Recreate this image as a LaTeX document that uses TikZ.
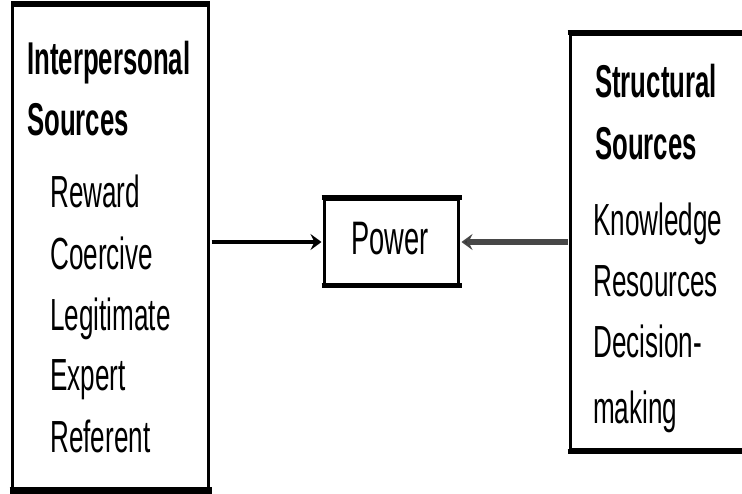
\documentclass[tikz,border=0pt]{standalone}
\usepackage{fontspec}
\newfontfamily\narrowfont[FakeStretch=0.58]{Liberation Sans}
\newfontfamily\narrowbold[FakeStretch=0.56]{Liberation Sans Bold}
\usetikzlibrary{arrows.meta}
\tikzset{
  frame/.style={draw=black, line width=3pt, inner sep=0pt, fill=white},
  head/.style={anchor=base west, inner sep=0pt, font=\narrowbold\fontsize{46}{50}\selectfont},
  item/.style={anchor=base west, inner sep=0pt, font=\narrowfont\fontsize{45}{50}\selectfont},
  conn/.style={line width=4pt, -{Stealth[length=11pt,width=16pt,inset=4pt]}},
}
\begin{document}
\begin{tikzpicture}[x=1pt,y=-1pt]
\useasboundingbox (0,0) rectangle (742,494);
\clip (0,0) rectangle (742,494);
% boxes
\node[frame, minimum width=196pt, minimum height=483.5pt] (L) at (110.5,247.25) {};
\draw[line width=5pt] (L.north west) -- (L.north east);
\draw[line width=8pt] ([xshift=-1.5pt]L.south west) -- ([xshift=1.5pt]L.south east);
\node[frame, minimum width=189pt, minimum height=415pt] (R) at (665,242) {};
\draw[line width=5pt] ([xshift=-1.5pt]R.north west) -- (R.north east);
\draw[line width=5pt] ([xshift=-1.5pt]R.south west) -- (R.south east);
\node[frame, minimum width=134pt, minimum height=85pt] (P) at (391.5,242) {};
\draw[line width=5pt] ([xshift=-1.5pt]P.north west) -- ([xshift=1.5pt]P.north east);
\draw[line width=5pt] ([xshift=-1.5pt]P.south west) -- ([xshift=1.5pt]P.south east);
\node[item, anchor=base, font=\narrowfont\fontsize{47}{50}\selectfont] (pw) at (390,255) {Power};
% left texts
\node[head] (l1) at (27,75) {Interpersonal};
\node[head] (l2) at (27,136) {Sources};
\node[item] (l3) at (50,208) {Reward};
\node[item] (l4) at (50,270) {Coercive};
\node[item] (l5) at (50,331) {Legitimate};
\node[item] (l6) at (50,391) {Expert};
\node[item] (l7) at (50,452) {Referent};
% right texts
\node[head] (r1) at (595,98) {Structural};
\node[head] (r2) at (595,160) {Sources};
\node[item] (r3) at (593,236) {Knowledge};
\node[item] (r4) at (593,297) {Resources};
\node[item] (r5) at (593,358) {Decision-};
\node[item] (r6) at (593,423) {making};
% connectors
\draw[conn] ([xshift=1.5pt]L.east |- P.west) -- ([xshift=-1.5pt]P.west);
\draw[conn, line width=6pt, draw=black!72, -{Stealth[length=11pt,width=16pt,inset=4pt,fill=black!80]}] ([xshift=-1.5pt]R.west |- P.east) -- ([xshift=1.5pt]P.east);
\end{tikzpicture}
\end{document}
